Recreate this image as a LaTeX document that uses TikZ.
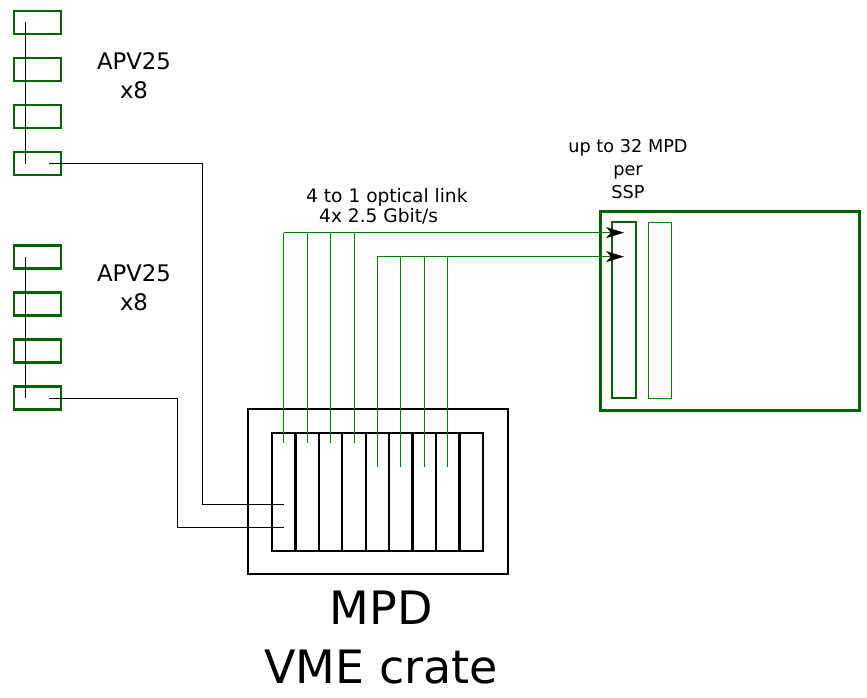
\documentclass[tikz,border=0pt]{standalone}
\usepackage{fontspec}
\setmainfont{DejaVu Sans}
\usetikzlibrary{arrows.meta}
\definecolor{boxgreen}{RGB}{0,100,0}
\definecolor{linkgreen}{RGB}{0,128,0}
\newcommand{\apvfont}{\fontsize{22.8}{29}\selectfont}
\newcommand{\linkfont}{\fontsize{18.6}{20}\selectfont}
\newcommand{\sspfont}{\fontsize{17.7}{23}\selectfont}
\newcommand{\cratefont}{\fontsize{46}{59}\selectfont}

\begin{document}
\begin{tikzpicture}[x=1pt,y=-1pt,
    apv/.style={draw=boxgreen, line width=2.2pt, minimum width=47pt, minimum height=23pt, inner sep=0pt},
    slot/.style={draw, line width=2.3pt, minimum width=23.44pt, minimum height=118pt, inner sep=0pt},
    link/.style={linkgreen, line width=1pt},
    wire/.style={black, line width=1pt}]
        \useasboundingbox (0,0) rectangle (867,698);

        % APV25 cards
        \foreach \i/\y in {1/22.5, 2/69.5, 3/116.5, 4/163.5}
            \node[apv] (apva\i) at (37.5,\y) {};
        \foreach \i/\y in {1/257, 2/304, 3/351, 4/398}
            \node[apv] (apvb\i) at (37.5,\y) {};
        \node[font=\apvfont, align=center, anchor=base] (apvtxta) at (134,99) {APV25\\x8};
        \node[font=\apvfont, align=center, anchor=base] (apvtxtb) at (134,310) {APV25\\x8};

        % VME crate with MPD slots
        \node[draw, line width=2.3pt, minimum width=260pt, minimum height=165pt, inner sep=0pt] (crate) at (378,491.5) {};
        \foreach \k in {1,...,9}
            \node[slot] (slot\k) at ({272+23.44*(\k-0.5)},492) {};
        \node[font=\cratefont, align=center, anchor=base] (cratetxt) at (381,683) {MPD\\VME crate};

        % SSP
        \node[draw=boxgreen, line width=3pt, minimum width=259pt, minimum height=199pt, inner sep=0pt] (ssp) at (729.5,310.5) {};
        \node[draw=boxgreen, line width=2.7pt, minimum width=24pt, minimum height=176pt, inner sep=0pt] (sspin) at (624,310) {};
        \node[draw=linkgreen, line width=1pt, minimum width=23pt, minimum height=176pt, inner sep=0pt] (sspcard) at (659.5,310) {};
        \node[font=\sspfont, align=center, anchor=base] (ssptxt) at (628,198) {up to 32 MPD\\per\\SSP};

        % Bus and cables
        \coordinate (ina) at ([yshift=-12pt]slot1.center);
        \coordinate (inb) at ([yshift=-35pt]slot1.center);
        \draw[wire] ([xshift=-12pt]apva1.center) -- ([xshift=-12pt]apva4.center);
        \draw[wire] ([xshift=-12pt]apvb1.center) -- ([xshift=-12pt]apvb4.center);
        \draw[wire] ([xshift=11.5pt]apva4.center) -| ([xshift=-81pt]ina) -- (ina);
        \draw[wire] ([xshift=11.5pt]apvb4.center) -| ([xshift=-106pt]inb) -- (inb);

        % Optical links
        \coordinate (linka) at ([yshift=-12pt]sspin.north);
        \coordinate (linkb) at ([yshift=-36pt]sspin.north);
        \foreach \k in {1,...,4}
            \draw[link] ([yshift=-11pt]slot\k.north) -- (slot\k.north |- linka);
        \foreach \k in {5,...,8}
            \draw[link] ([yshift=-35pt]slot\k.north) -- (slot\k.north |- linkb);
        \draw[link, -{Stealth[length=18pt, width=11pt, inset=5pt, black]}] (slot1.north |- linka) -- (linka);
        \draw[link, -{Stealth[length=18pt, width=11pt, inset=5pt, black]}] (slot5.north |- linkb) -- (linkb);
        \node[font=\linkfont, align=left, anchor=base west, inner sep=0pt] (linktxt) at (306,222) {4 to 1 optical link\\\hspace*{13pt}4x 2.5 Gbit/s};
    \end{tikzpicture}
\end{document}
